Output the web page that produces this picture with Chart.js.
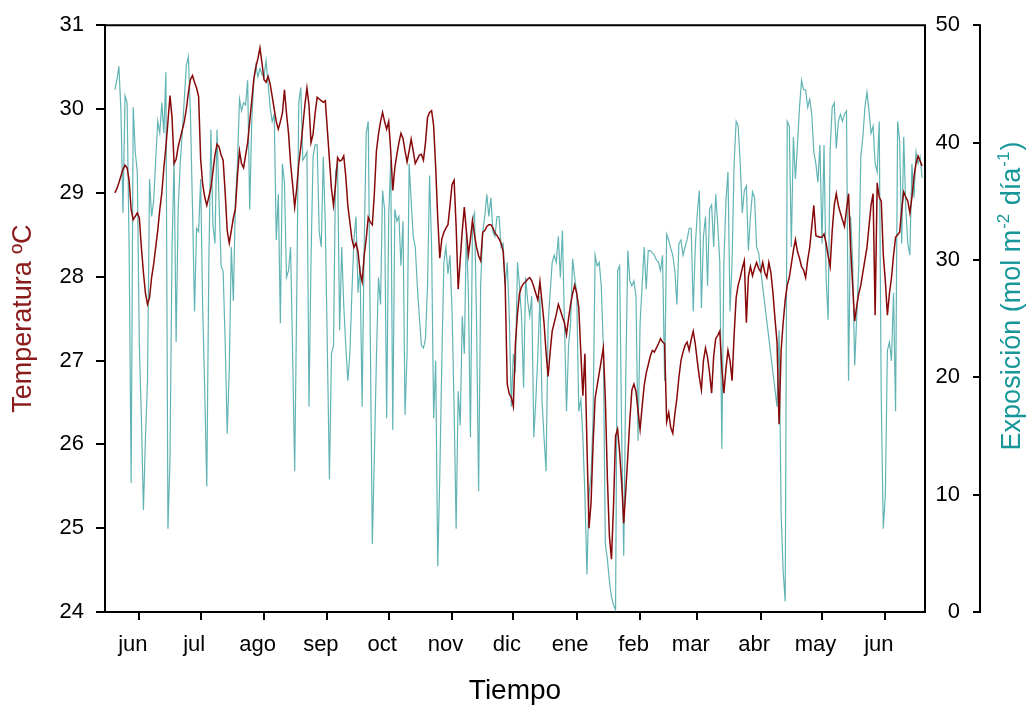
<!DOCTYPE html>
<html>
<head>
<meta charset="utf-8">
<script src="https://cdn.jsdelivr.net/npm/chart.js@4.4.1/dist/chart.umd.min.js"></script>
<style>
  html, body { margin: 0; padding: 0; background: #ffffff; }
  #wrap { width: 1036px; height: 706px; }
</style>
</head>
<body>
<div id="wrap"><canvas id="chart" width="1036" height="706"></canvas></div>
<script>
// Daily series; day 0 = 1 June, first record on day -12 (20 May)
const firstDay = -12;

// Mean daily water temperature (ºC)
const temperature = [
  29.00, 29.05, 29.12, 29.20, 29.28, 29.33, 29.30, 29.15, 28.80, 28.68,
  28.72, 28.76, 28.70, 28.35, 28.05, 27.80, 27.67, 27.75, 27.99, 28.15,
  28.35, 28.55, 28.80, 29.00, 29.30, 29.55, 29.85, 30.16, 29.90, 29.35,
  29.40, 29.55, 29.65, 29.75, 29.85, 30.00, 30.20, 30.35, 30.40, 30.32,
  30.25, 30.15, 29.40, 29.10, 28.95, 28.85, 28.95, 29.06, 29.25, 29.45,
  29.58, 29.55, 29.45, 29.39, 29.00, 28.55, 28.40, 28.55, 28.70, 28.81,
  29.20, 29.50, 29.35, 29.30, 29.45, 29.60, 29.85, 30.10, 30.35, 30.50,
  30.60, 30.73, 30.55, 30.35, 30.32, 30.39, 30.30, 30.15, 30.00, 29.85,
  29.76, 29.85, 29.95, 30.23, 29.95, 29.71, 29.35, 29.10, 28.83, 29.05,
  29.35, 29.55, 29.80, 30.05, 30.25, 30.05, 29.60, 29.70, 29.95, 30.14,
  30.12, 30.10, 30.08, 30.10, 29.75, 29.40, 29.05, 28.85, 29.10, 29.42,
  29.38, 29.39, 29.44, 29.20, 28.85, 28.65, 28.45, 28.35, 28.40, 28.30,
  28.05, 27.94, 28.25, 28.45, 28.71, 28.65, 28.62, 29.00, 29.50, 29.70,
  29.85, 29.96, 29.85, 29.76, 29.85, 29.50, 29.03, 29.30, 29.46, 29.60,
  29.71, 29.65, 29.50, 29.37, 29.50, 29.64, 29.50, 29.35, 29.40, 29.45,
  29.46, 29.39, 29.60, 29.90, 29.96, 29.98, 29.80, 29.30, 28.70, 28.22,
  28.45, 28.53, 28.58, 28.62, 28.85, 29.10, 29.15, 28.60, 27.85, 28.20,
  28.55, 28.83, 28.55, 28.26, 28.45, 28.67, 28.50, 28.35, 28.25, 28.19,
  28.53, 28.55, 28.60, 28.62, 28.62, 28.58, 28.52, 28.49, 28.45, 28.40,
  28.30, 27.90, 26.72, 26.60, 26.56, 26.45, 27.20, 27.55, 27.80, 27.88,
  27.92, 27.94, 27.97, 27.99, 27.95, 27.88, 27.80, 27.72, 27.94, 27.70,
  27.45, 27.10, 26.81, 27.10, 27.35, 27.45, 27.55, 27.67, 27.60, 27.52,
  27.45, 27.31, 27.50, 27.67, 27.80, 27.90, 27.80, 27.63, 27.10, 26.58,
  27.08, 26.00, 25.00, 25.30, 26.00, 26.55, 26.70, 26.85, 27.00, 27.15,
  26.54, 25.60, 24.90, 24.63, 25.27, 26.10, 26.18, 25.90, 25.54, 25.06,
  25.45, 25.86, 26.30, 26.65, 26.72, 26.63, 26.40, 26.18, 26.45, 26.70,
  26.85, 26.95, 27.05, 27.12, 27.10, 27.15, 27.20, 27.26, 27.22, 27.20,
  26.27, 26.38, 26.20, 26.13, 26.36, 26.55, 26.80, 27.00, 27.10, 27.18,
  27.22, 27.12, 27.25, 27.35, 27.20, 26.99, 26.80, 26.65, 27.00, 27.15,
  27.04, 26.85, 26.61, 27.05, 27.26, 27.30, 27.35, 26.90, 26.61, 26.90,
  27.12, 27.00, 26.76, 27.30, 27.75, 27.90, 27.99, 28.10, 28.19, 27.45,
  28.00, 28.12, 28.01, 28.10, 28.17, 28.10, 28.06, 28.17, 28.05, 27.99,
  28.17, 28.05, 27.81, 27.50, 27.22, 26.24, 27.12, 27.45, 27.72, 27.90,
  27.99, 28.15, 28.31, 28.44, 28.30, 28.22, 28.12, 28.08, 27.99, 28.20,
  28.35, 28.60, 28.85, 28.49, 28.48, 28.47, 28.47, 28.51, 28.40, 28.25,
  28.12, 28.55, 28.85, 28.99, 28.85, 28.76, 28.68, 28.60, 28.80, 28.99,
  28.35, 27.90, 27.47, 27.65, 27.80, 27.90, 28.05, 28.20, 28.35, 28.60,
  28.85, 28.99, 27.54, 29.12, 28.95, 28.90, 28.26, 27.95, 27.54, 27.80,
  27.99, 28.25, 28.47, 28.50, 28.53, 28.80, 29.01, 28.95, 28.90, 28.76,
  28.95, 29.19, 29.35, 29.44, 29.38, 29.32
];

// Daily light exposure (mol m-2 day-1); null = no record
const exposure = [
  44.5, 45.3, 46.5, 42.7, 34.0, 44.0, 43.4, 31.1, 11.0, 43.0,
  39.2, 37.5, 22.7, 16.5, 8.7, 14.9, 19.7, 36.9, 33.7, 35.0,
  38.5, 41.8, 40.8, 43.4, 40.8, 46.0, 7.1, 13.0, 31.1, 38.5,
  23.0, 34.3, 38.2, 40.8, 43.7, 46.6, 47.3, 42.4, 34.5, 25.6,
  32.7, 32.4, 36.9, 25.9, 18.8, 10.7, 29.5, 41.1, 33.0, 31.4,
  41.1, 35.0, 29.5, 29.0, 23.0, 15.2, 20.7, 31.1, 26.5, 35.0,
  38.2, 43.7, 42.7, 43.4, 43.2, 45.3, 34.3, 41.8, 45.3, 46.6,
  45.6, 46.3, 45.8, 45.6, 47.0, 45.0, 43.0, 41.8, 42.4, 31.7,
  35.6, 24.6, 38.2, 36.6, 28.5, 29.1, 31.1, 22.0, 12.0, 26.5,
  43.4, 44.7, 38.5, 38.8, 39.2, 17.5, 30.1, 38.8, 39.8, 39.8,
  32.4, 31.1, 38.8, 33.0, 22.3, 11.3, 22.0, 22.7, 37.5, 38.2,
  24.0, 31.1, 26.2, 22.7, 19.7, 22.0, 27.2, 31.7, 33.7, 27.2,
  29.5, 17.5, 31.1, 40.8, 41.8, 23.6, 5.8, 13.3, 21.7, 28.5,
  26.2, 35.9, 34.3, 16.5, 33.7, 38.5, 15.5, 34.3, 33.3, 33.7,
  29.5, 33.3, 16.8, 22.0, 38.2, 35.0, 32.0, 31.1, 27.8, 25.2,
  22.7, 22.5, 23.3, 27.8, 37.2, 31.1, 16.5, 21.4, 3.9, 11.6,
  21.4, 29.8, 31.1, 28.8, 30.4, 25.6, 17.5, 7.1, 18.8, 15.9,
  25.2, 22.0, 32.4, 27.2, 14.9, 33.3, 34.0, 24.6, 10.3, 27.8,
  32.4, 33.7, 35.6, 33.7, 35.3, 32.4, 32.0, 33.7, 33.7, 31.1,
  31.4, 27.8, 29.8, 25.2, 17.5, 22.0, 20.4, 29.8, 27.8, 25.2,
  19.1, 28.5, 26.5, 25.2, 26.9, 14.9, 18.1, 22.0, 26.9, 18.1,
  14.9, 12.0, 24.6, 27.2, 29.8, 30.4, 29.8, 32.0, 28.5, 32.5,
  24.6, 17.1, 22.7, 24.6, 30.1, 28.5, 27.2, 17.1, 18.1, 14.9,
  10.0, 3.2, 10.0, 11.6, 16.5, 30.4, 29.5, 29.8, 27.8, 22.7,
  5.8, 4.5, 2.6, 1.3, 0.6, 0.2, 29.1, 29.5, 14.9, 4.8,
  20.0, 30.8, 28.2, 27.8, 28.2, 26.9, 14.6, 24.6, 27.8, 31.1,
  27.5, 30.8, 30.8, 30.6, 30.4, 30.0, 29.8, 29.1, 30.4, 19.7,
  32.2, 31.7, 31.0, 30.4, 29.1, 26.2, 31.4, 31.7, 30.4, 31.1,
  31.7, 32.7, 32.7, 25.6, 31.1, 34.0, 35.9, 25.9, 32.0, 33.7,
  27.8, 34.3, 34.7, 31.1, 35.6, 33.0, 29.8, 13.9, 29.8, 35.0,
  37.5, 25.6, 29.8, 38.2, 41.8, 41.4, 38.2, 34.0, 35.9, 36.3,
  30.8, 33.7, 35.8, 35.3, 31.1, 30.6, null, null, null, null,
  null, null, null, null, 17.5, 24.0, 8.4, 3.5, 0.9, 41.8,
  41.4, 31.1, 40.5, 36.9, 39.8, 43.0, 45.3, 44.5, 44.5, 43.0,
  43.7, 42.4, 39.2, 38.2, 36.6, 39.8, 31.4, 39.8, 28.5, 24.9,
  39.5, 43.0, 43.4, 39.5, 41.8, 42.4, 41.8, 42.4, 42.7, 19.7,
  33.7, 29.8, 21.0, 25.2, 29.5, 38.8, 40.5, 43.0, 44.3, 42.7,
  40.8, 41.4, 38.2, 37.5, 41.8, 18.1, 7.1, 10.0, 22.3, 23.0,
  21.4, 27.2, 17.1, 41.8, 40.1, 31.4, 40.5, 34.3, 31.4, 30.4,
  38.2, 35.3, 39.2, 38.2, 38.8, 37.0
];

// Month boundaries (days from 1 June) and their labels
const monthStarts = [0, 30, 61, 92, 122, 153, 183, 214, 245, 273, 304, 334, 365];
const monthLabels = ['jun', 'jul', 'ago', 'sep', 'oct', 'nov', 'dic', 'ene', 'feb', 'mar', 'abr', 'may', 'jun'];

const FONT = '"Liberation Sans", Arial, Helvetica, sans-serif';
const RED = '#870808';
const TEAL = '#62b4b4';
const TEAL_TEXT = '#17979a';

const toPoints = arr => arr.map((v, i) => ({ x: firstDay + i, y: v }));

// Plot frame (top/right edges), detached right axis and its rich-text title
const framePlugin = {
  id: 'frame',
  afterDraw(chart) {
    const { ctx, chartArea: a, scales } = chart;
    const y2 = scales.y2;
    ctx.save();
    ctx.strokeStyle = '#000';
    ctx.lineWidth = 2;
    ctx.beginPath();
    ctx.moveTo(a.left, a.top);
    ctx.lineTo(a.right, a.top);
    ctx.lineTo(a.right, a.bottom + 1);
    ctx.stroke();

    const ax = y2.right + 20;
    ctx.beginPath();
    ctx.moveTo(ax, y2.getPixelForValue(y2.max) - 1);
    ctx.lineTo(ax, y2.getPixelForValue(y2.min) + 1);
    ctx.stroke();
    y2.ticks.forEach(t => {
      const py = Math.round(y2.getPixelForValue(t.value));
      ctx.beginPath();
      ctx.moveTo(ax - 7, py);
      ctx.lineTo(ax, py);
      ctx.stroke();
    });

    const parts = [['Exposición (mol m', false], ['-2', true], [' día', false], ['-1', true], [')', false]];
    const mainFont = '27px ' + FONT;
    const supFont = '17px ' + FONT;
    ctx.translate(1013, 296);
    ctx.rotate(-Math.PI / 2);
    ctx.fillStyle = TEAL_TEXT;
    ctx.textBaseline = 'middle';
    ctx.textAlign = 'left';
    let total = 0;
    parts.forEach(([t, s]) => { ctx.font = s ? supFont : mainFont; total += ctx.measureText(t).width + (s ? 2 : 0); });
    let x = -total / 2;
    parts.forEach(([t, s]) => {
      ctx.font = s ? supFont : mainFont;
      ctx.fillText(t, x + (s ? 1 : 0), s ? -9 : 0);
      x += ctx.measureText(t).width + (s ? 2 : 0);
    });
    ctx.restore();
  }
};

new Chart(document.getElementById('chart'), {
  type: 'line',
  data: {
    datasets: [
      {
        label: 'Temperatura',
        data: toPoints(temperature),
        yAxisID: 'y',
        borderColor: RED,
        borderWidth: 1.5,
        pointRadius: 0,
        tension: 0,
        fill: false
      },
      {
        label: 'Exposición',
        data: toPoints(exposure),
        yAxisID: 'y2',
        borderColor: TEAL,
        borderWidth: 1.2,
        pointRadius: 0,
        tension: 0,
        spanGaps: true,
        fill: false
      }
    ]
  },
  options: {
    responsive: false,
    devicePixelRatio: 1,
    animation: false,
    layout: { padding: { top: 21, right: 76, bottom: 0, left: 0 } },
    plugins: { legend: { display: false }, tooltip: { enabled: false } },
    scales: {
      x: {
        type: 'linear',
        min: -16.8,
        max: 384.4,
        afterBuildTicks(s) { s.ticks = monthStarts.map(v => ({ value: v })); },
        afterFit(s) { s.height = 94; },
        ticks: {
          autoSkip: false, maxRotation: 0, minRotation: 0,
          labelOffset: -6.5, padding: 12, color: '#000',
          font: { family: FONT, size: 22 },
          callback: (v, i) => monthLabels[i]
        },
        grid: { drawOnChartArea: false, drawTicks: true, tickLength: 8, color: '#000', lineWidth: 2 },
        border: { display: true, color: '#000', width: 2 },
        title: { display: true, text: 'Tiempo', color: '#000', font: { family: FONT, size: 28 }, padding: { top: 0, bottom: -2 } }
      },
      y: {
        position: 'left',
        min: 24,
        max: 31,
        afterFit(s) { s.width = 105; },
        ticks: { stepSize: 1, padding: 12, color: '#000', font: { family: FONT, size: 22 } },
        grid: { drawOnChartArea: false, drawTicks: true, tickLength: 9, color: '#000', lineWidth: 2 },
        border: { display: true, color: '#000', width: 2 },
        title: { display: true, text: 'Temperatura ºC', color: '#8b1a1a', font: { family: FONT, size: 27 }, padding: { top: 7, bottom: 0 } }
      },
      y2: {
        position: 'right',
        min: 0,
        max: 50,
        afterFit(s) { s.width = 35; },
        ticks: { stepSize: 10, padding: 0, crossAlign: 'far', color: '#000', font: { family: FONT, size: 22 } },
        grid: { display: false, drawTicks: false },
        border: { display: false }
      }
    }
  },
  plugins: [framePlugin]
});
</script>
</body>
</html>
